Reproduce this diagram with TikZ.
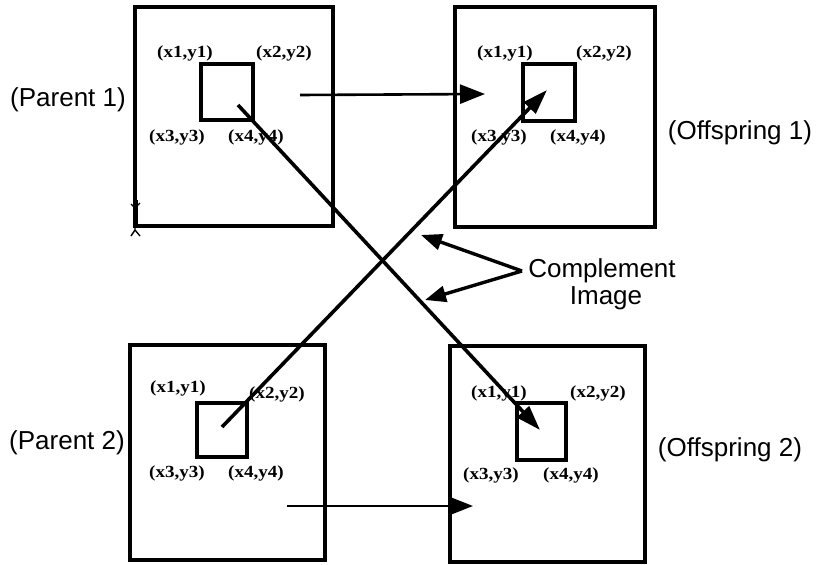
\documentclass[tikz,border=0pt]{standalone}
\usepackage{fontspec}
\setmainfont{Liberation Sans}
\newfontfamily\lblfont{Liberation Serif}
\usetikzlibrary{arrows.meta}
\begin{document}
\begin{tikzpicture}[x=1pt,y=-1pt,
  outerbox/.style={draw,line width=3.8pt,inner sep=0pt},
  innerbox/.style={draw,line width=3.4pt,inner sep=0pt},
  biglabel/.style={font=\fontsize{26}{30}\selectfont,inner sep=0pt},
  corner/.style={font=\lblfont\bfseries\fontsize{17}{19}\selectfont,inner sep=0pt,xscale=1.12},
  movearrow/.style={line width=2.6pt,-{Triangle[length=25pt,width=19pt]}},
  crossline/.style={line width=3.6pt,-{Triangle[length=25pt,width=16pt]}},
  comparrow/.style={line width=3.4pt,-{Triangle[length=21pt,width=16pt]}}]
\useasboundingbox (0,0) rectangle (817,565);
% outer boxes
\node[outerbox,minimum width=198pt,minimum height=219pt] (P1) at (234,116.5) {};
\node[outerbox,minimum width=200pt,minimum height=220pt] (O1) at (555,117) {};
\node[outerbox,minimum width=195pt,minimum height=215pt] (P2) at (227.5,452.5) {};
\node[outerbox,minimum width=195pt,minimum height=216pt] (O2) at (547.5,454) {};
% inner squares
\node[innerbox,minimum width=52pt,minimum height=56pt] (p1s) at (227,92) {};
\node[innerbox,minimum width=52pt,minimum height=57pt] (o1s) at (549,92.5) {};
\node[innerbox,minimum width=50pt,minimum height=54pt] (p2s) at (222,430) {};
\node[innerbox,minimum width=49pt,minimum height=57pt] (o2s) at (541.5,431.5) {};
% corner labels
\node[corner] (p1a) at (185,53) {(x1,y1)};
\node[corner] (p1b) at (284,53) {(x2,y2)};
\node[corner] (p1c) at (177,137) {(x3,y3)};
\node[corner] (p1d) at (256,137) {(x4,y4)};
\node[corner] (o1a) at (505,53) {(x1,y1)};
\node[corner] (o1b) at (604,53) {(x2,y2)};
\node[corner] (o1c) at (499,137) {(x3,y3)};
\node[corner] (o1d) at (578,137) {(x4,y4)};
\node[corner] (p2a) at (178,388) {(x1,y1)};
\node[corner] (p2b) at (277,394) {(x2,y2)};
\node[corner] (p2c) at (177,473) {(x3,y3)};
\node[corner] (p2d) at (256,473) {(x4,y4)};
\node[corner] (o2a) at (499,393) {(x1,y1)};
\node[corner] (o2b) at (598,393) {(x2,y2)};
\node[corner] (o2c) at (491,475) {(x3,y3)};
\node[corner] (o2d) at (571,475) {(x4,y4)};
% big labels
\node[biglabel] (lp1) at (68,100) {(Parent 1)};
\node[biglabel] (lo1) at (740,133) {(Offspring 1)};
\node[biglabel] (lp2) at (67,443) {(Parent 2)};
\node[biglabel] (lo2) at (730,450) {(Offspring 2)};
\node[biglabel] (comp) at (602,271) {Complement};
\node[biglabel] (img) at (606,298) {Image};
% connector end points
\coordinate (a1s) at (300,95);
\coordinate (a1e) at (485,94);
\coordinate (a2s) at (287,506);
\coordinate (a2e) at (473,506);
\coordinate (c1s) at (238,105);
\coordinate (c1e) at (540,430);
\coordinate (c2s) at (222,427);
\coordinate (c2e) at (547,90);
\coordinate (cs) at (522,271);
\coordinate (ct1) at (421,235);
\coordinate (ct2) at (425,300);
% connectors
\draw[movearrow] (a1s) -- (a1e);
\draw[movearrow] (a2s) -- (a2e);
\draw[crossline] (c1s) -- (c1e);
\draw[crossline] (c2s) -- (c2e);
\draw[comparrow] (cs) -- (ct1);
\draw[comparrow] (cs) -- (ct2);
% small cursor mark
\draw[line width=4.5pt] (135.5,200) -- (135.5,226);
\draw[line width=1.4pt] (131,204) -- (135,208) -- (140,203);
\draw[line width=1.4pt] (135,226) -- (135,230) (131,236) -- (135,230) -- (140,236);
\end{tikzpicture}
\end{document}
